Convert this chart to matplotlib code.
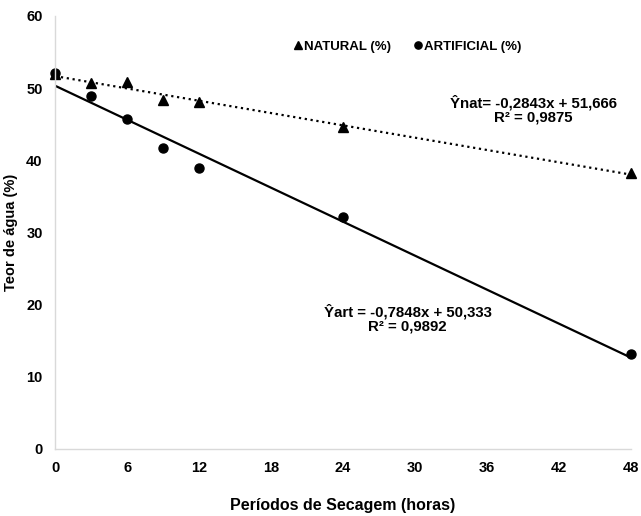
import matplotlib.pyplot as plt
import numpy as np

plt.rcParams['font.family'] = ['Liberation Sans', 'DejaVu Sans']
plt.rcParams['font.weight'] = 'bold'

# Periodos de secagem (horas)
horas = [0, 3, 6, 9, 12, 24, 48]
natural = [52.0, 50.7, 50.9, 48.3, 48.1, 44.6, 38.3]
artificial = [52.1, 48.9, 45.7, 41.7, 38.9, 32.1, 13.1]

# regression coefficients shown on the chart
a_nat, b_nat = -0.2843, 51.666
a_art, b_art = -0.7848, 50.333

fig = plt.figure(figsize=(6.41, 5.16), dpi=100)
ax = fig.add_axes([0.086, 0.130, 0.898, 0.839])

xx = np.array([0, 48])
ax.plot(xx, a_nat * xx + b_nat, ':', color='black', lw=1.6)
ax.plot(xx, a_art * xx + b_art, '-', color='black', lw=1.6)
ax.plot(horas, natural, '^', color='black', ms=6.5, label='NATURAL (%)', clip_on=False)
ax.plot(horas, artificial, 'o', color='black', ms=6.5, label='ARTIFICIAL (%)', clip_on=False)

ax.set_xlim(0, 48)
ax.set_ylim(0, 60)
ax.set_xticks(range(0, 49, 6))
ax.set_yticks(range(0, 61, 10))
ax.tick_params(length=0, labelsize=10.5, pad=9)
for s in ['top', 'right']:
    ax.spines[s].set_visible(False)
for s in ['left', 'bottom']:
    ax.spines[s].set_color('#d9d9d9')
    ax.spines[s].set_linewidth(1.0)

ax.set_ylabel('Teor de água (%)', fontsize=10.5, fontweight='bold', labelpad=6)
ax.set_xlabel('Períodos de Secagem (horas)', fontsize=11.5, fontweight='bold', labelpad=16)

ax.legend(loc='upper center', bbox_to_anchor=(0.61, 0.97), ncol=2, frameon=False,
          fontsize=9.5, handletextpad=0.0, columnspacing=1.5, markerscale=0.8,
          handlelength=1.0)

ax.text(39.9, 47.0, 'Ŷnat= -0,2843x + 51,666\nR² = 0,9875', ha='center', va='center',
        fontsize=10.8, fontweight='bold', linespacing=1.0)
ax.text(29.4, 18.1, 'Ŷart = -0,7848x + 50,333\nR² = 0,9892', ha='center', va='center',
        fontsize=10.8, fontweight='bold', linespacing=1.0)

plt.savefig('out.png', dpi=100)
plt.close(fig)
